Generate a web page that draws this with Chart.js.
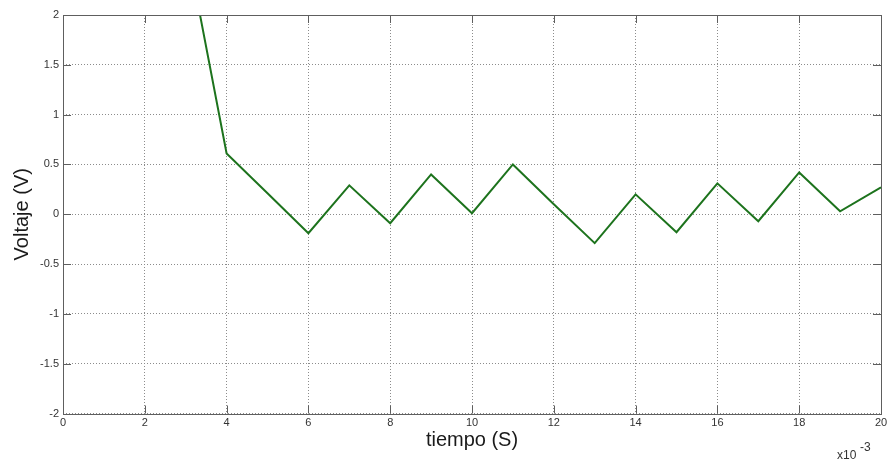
<!DOCTYPE html>
<html>
<head>
<meta charset="utf-8">
<script src="https://cdn.jsdelivr.net/npm/chart.js@4.4.1/dist/chart.umd.min.js"></script>
<style>
  html, body { margin: 0; padding: 0; background: #ffffff; }
  #wrap { width: 887px; height: 461px; }
</style>
</head>
<body>
<div id="wrap"><canvas id="c" width="887" height="461"></canvas></div>
<script>
// Time samples (x10^-3 s) and measured voltage
const tiempo  = [3, 4, 5, 6, 7, 8, 9, 10, 11, 12, 13, 14, 15, 16, 17, 18, 19, 20];
const voltaje = [2.75, 0.61, 0.21, -0.19, 0.29, -0.09, 0.40, 0.01, 0.50, 0.10, -0.29, 0.20, -0.18, 0.31, -0.07, 0.42, 0.03, 0.27];

// Axis ranges and tick spacing
const xRange = [0, 20];
const xStep = 2;
const yRange = [-2, 2];
const yStep = 0.5;

const puntos = tiempo.map((t, i) => ({ x: t, y: voltaje[i] }));

const boxColor = '#5e5e5e';
const tickFont = { family: 'Liberation Sans, Arial, sans-serif', size: 11 };
const plainNumber = v => String(Number(v.toFixed(2)));

// Closed axes box with inward tick marks, plus the x10^-3 exponent label
const axesBox = {
  id: 'axesBox',
  afterDatasetsDraw(chart) {
    const { ctx, chartArea: a, scales } = chart;
    const len = 8;
    ctx.save();
    ctx.strokeStyle = boxColor;
    ctx.lineWidth = 1;
    ctx.beginPath();
    scales.x.ticks.forEach(t => {
      const px = Math.round(scales.x.getPixelForValue(t.value)) + 0.5;
      ctx.moveTo(px, a.bottom); ctx.lineTo(px, a.bottom - len);
      ctx.moveTo(px, a.top); ctx.lineTo(px, a.top + len);
    });
    scales.y.ticks.forEach(t => {
      const py = Math.round(scales.y.getPixelForValue(t.value)) + 0.5;
      ctx.moveTo(a.left, py); ctx.lineTo(a.left + len, py);
      ctx.moveTo(a.right, py); ctx.lineTo(a.right - len, py);
    });
    ctx.stroke();
    ctx.strokeRect(Math.round(a.left) + 0.5, Math.round(a.top) + 0.5,
                   Math.round(a.right - a.left), Math.round(a.bottom - a.top));

    ctx.fillStyle = '#333333';
    ctx.textBaseline = 'middle';
    ctx.textAlign = 'left';
    ctx.font = '12px "Liberation Sans", Arial, sans-serif';
    ctx.fillText('x10', a.right - 44, 456);
    ctx.fillText('-3', a.right - 21, 448);
    ctx.restore();
  }
};

new Chart(document.getElementById('c'), {
  type: 'line',
  data: {
    datasets: [{
      data: puntos,
      borderColor: '#1d731d',
      borderWidth: 2,
      pointRadius: 0,
      tension: 0,
      fill: false,
      clip: 0
    }]
  },
  options: {
    responsive: false,
    animation: false,
    layout: { padding: { left: 10, right: 6, top: 15, bottom: 9 } },
    plugins: { legend: { display: false }, tooltip: { enabled: false } },
    scales: {
      x: {
        type: 'linear',
        min: xRange[0],
        max: xRange[1],
        afterFit: s => { s.height = 38.5; s.paddingLeft = 0; s.paddingRight = 0; },
        ticks: { stepSize: xStep, color: '#333333', font: tickFont, padding: 3, maxRotation: 0, callback: plainNumber },
        grid: { color: '#8c8c8c', lineWidth: 1, drawTicks: false },
        border: { display: false, dash: [1, 2] },
        title: {
          display: true,
          text: 'tiempo (S)',
          color: '#1a1a1a',
          font: { family: 'Liberation Sans, Arial, sans-serif', size: 20 },
          padding: 0
        }
      },
      y: {
        type: 'linear',
        min: yRange[0],
        max: yRange[1],
        afterFit: s => { s.width = 53; s.paddingTop = 0; s.paddingBottom = 0; },
        ticks: { stepSize: yStep, color: '#333333', font: tickFont, padding: 4, callback: plainNumber },
        grid: { color: '#8c8c8c', lineWidth: 1, drawTicks: false },
        border: { display: false, dash: [1, 2] },
        title: {
          display: true,
          text: 'Voltaje (V)',
          color: '#1a1a1a',
          font: { family: 'Liberation Sans, Arial, sans-serif', size: 20 },
          padding: 0
        }
      }
    }
  },
  plugins: [axesBox]
});
</script>
</body>
</html>
